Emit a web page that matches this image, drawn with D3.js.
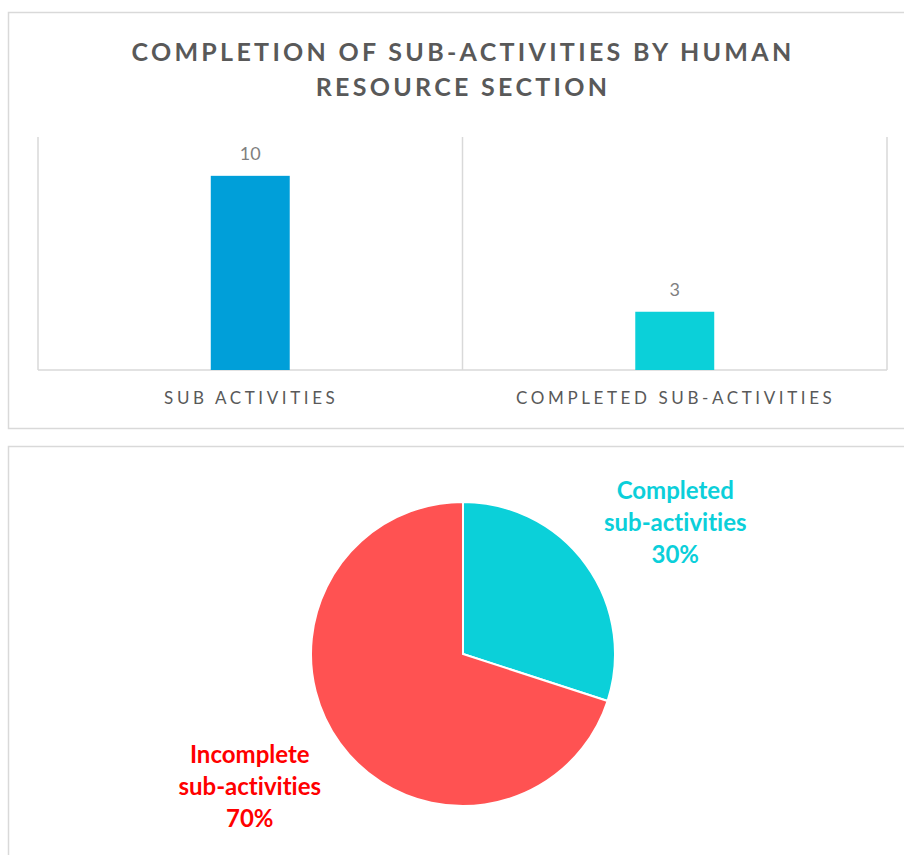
<!DOCTYPE html>
<html>
<head>
<meta charset="utf-8">
<script src="https://cdn.jsdelivr.net/npm/d3@7"></script>
<style>
  html, body { margin: 0; padding: 0; background: #ffffff; }
  svg { display: block; }
  text { font-variant-ligatures: none; }
</style>
</head>
<body>
<script>
// ---- Data ----
const categories = ["SUB ACTIVITIES", "COMPLETED SUB-ACTIVITIES"];
const barValues = [10, 3];
const barColors = ["#009FD9", "#0BD0D9"];
const yMax = 12;

const pieLabels = [["Completed", "sub-activities"], ["Incomplete", "sub-activities"]];
const pieValues = [30, 70];
const pieColors = ["#0BD0D9", "#FF5252"];
const pieLabelColors = ["#0BCFDA", "#FF0000"];

const titleLines = ["COMPLETION OF SUB-ACTIVITIES BY HUMAN", "RESOURCE SECTION"];

// ---- Setup ----
const W = 904, H = 855;
const font = "Lato, 'Open Sans', sans-serif";
const svg = d3.select("body").append("svg").attr("width", W).attr("height", H);
svg.append("rect").attr("width", W).attr("height", H).attr("fill", "#fff");

// chart boxes
svg.append("rect").attr("x", 8.5).attr("y", 12.5).attr("width", 1000).attr("height", 416)
  .attr("fill", "none").attr("stroke", "#d9d9d9").attr("stroke-width", 1.5);
svg.append("rect").attr("x", 8.5).attr("y", 446.5).attr("width", 1000).attr("height", 600)
  .attr("fill", "none").attr("stroke", "#d9d9d9").attr("stroke-width", 1.5);

// title
svg.append("text")
  .attr("x", 463).attr("text-anchor", "middle")
  .attr("font-family", font).attr("font-weight", 700).attr("font-size", 25)
  .attr("letter-spacing", 3.3).attr("fill", "#595959")
  .selectAll("tspan").data(titleLines).join("tspan")
  .attr("x", 463).attr("y", (d, i) => 61 + i * 35).text(d => d);

// ---- Bar chart ----
const x = d3.scaleBand().domain(categories).range([38, 887]).padding(0);
const y = d3.scaleLinear().domain([0, yMax]).range([370, 137]);

const gGrid = svg.append("g");
const bounds = categories.map(c => x(c)).concat([x.range()[1]]);
gGrid.selectAll("line.v").data(bounds).join("line")
  .attr("x1", d => d).attr("x2", d => d)
  .attr("y1", y(yMax)).attr("y2", y(0))
  .attr("stroke", "#d9d9d9").attr("stroke-width", 1.5);
gGrid.append("line")
  .attr("x1", x.range()[0]).attr("x2", x.range()[1])
  .attr("y1", y(0)).attr("y2", y(0))
  .attr("stroke", "#d9d9d9").attr("stroke-width", 1.5);

const barW = x.bandwidth() * 0.186;
svg.selectAll("rect.bar").data(barValues).join("rect")
  .attr("class", "bar")
  .attr("x", (d, i) => x(categories[i]) + x.bandwidth() / 2 - barW / 2)
  .attr("width", barW)
  .attr("y", d => y(d))
  .attr("height", d => y(0) - y(d))
  .attr("fill", (d, i) => barColors[i]);

svg.selectAll("text.val").data(barValues).join("text")
  .attr("class", "val")
  .attr("x", (d, i) => x(categories[i]) + x.bandwidth() / 2)
  .attr("y", d => y(d) - 16)
  .attr("text-anchor", "middle")
  .attr("font-family", font).attr("font-size", 18).attr("fill", "#7f7f7f")
  .text(d => d);

svg.selectAll("text.cat").data(categories).join("text")
  .attr("class", "cat")
  .attr("x", d => x(d) + x.bandwidth() / 2 + 1)
  .attr("y", 404)
  .attr("text-anchor", "middle")
  .attr("font-family", font).attr("font-size", 17).attr("letter-spacing", 3.6)
  .attr("fill", "#595959")
  .text(d => d);

// ---- Pie chart ----
const cx = 463, cy = 654, R = 152;
const pie = d3.pie().sort(null).value(d => d)(pieValues);
const arc = d3.arc().innerRadius(0).outerRadius(R);
const gPie = svg.append("g").attr("transform", `translate(${cx},${cy})`);
gPie.selectAll("path").data(pie).join("path")
  .attr("d", arc)
  .attr("fill", (d, i) => pieColors[i])
  .attr("stroke", "#fff").attr("stroke-width", 2);

const labelArc = d3.arc().innerRadius(250).outerRadius(250);
const labelShift = [[10, 16], [-11, -14]];
const total = d3.sum(pieValues);
pie.forEach((d, i) => {
  const [lx, ly] = labelArc.centroid(d);
  const px = lx + labelShift[i][0], py = ly + labelShift[i][1];
  const lines = pieLabels[i].concat([Math.round(pieValues[i] / total * 100) + "%"]);
  gPie.append("text")
    .attr("text-anchor", "middle")
    .attr("font-family", font).attr("font-weight", 700).attr("font-size", 24)
    .attr("fill", pieLabelColors[i])
    .selectAll("tspan").data(lines).join("tspan")
    .attr("x", px).attr("y", (t, k) => py + (k - 1) * 32 + 8)
    .text(t => t);
});
</script>
</body>
</html>
